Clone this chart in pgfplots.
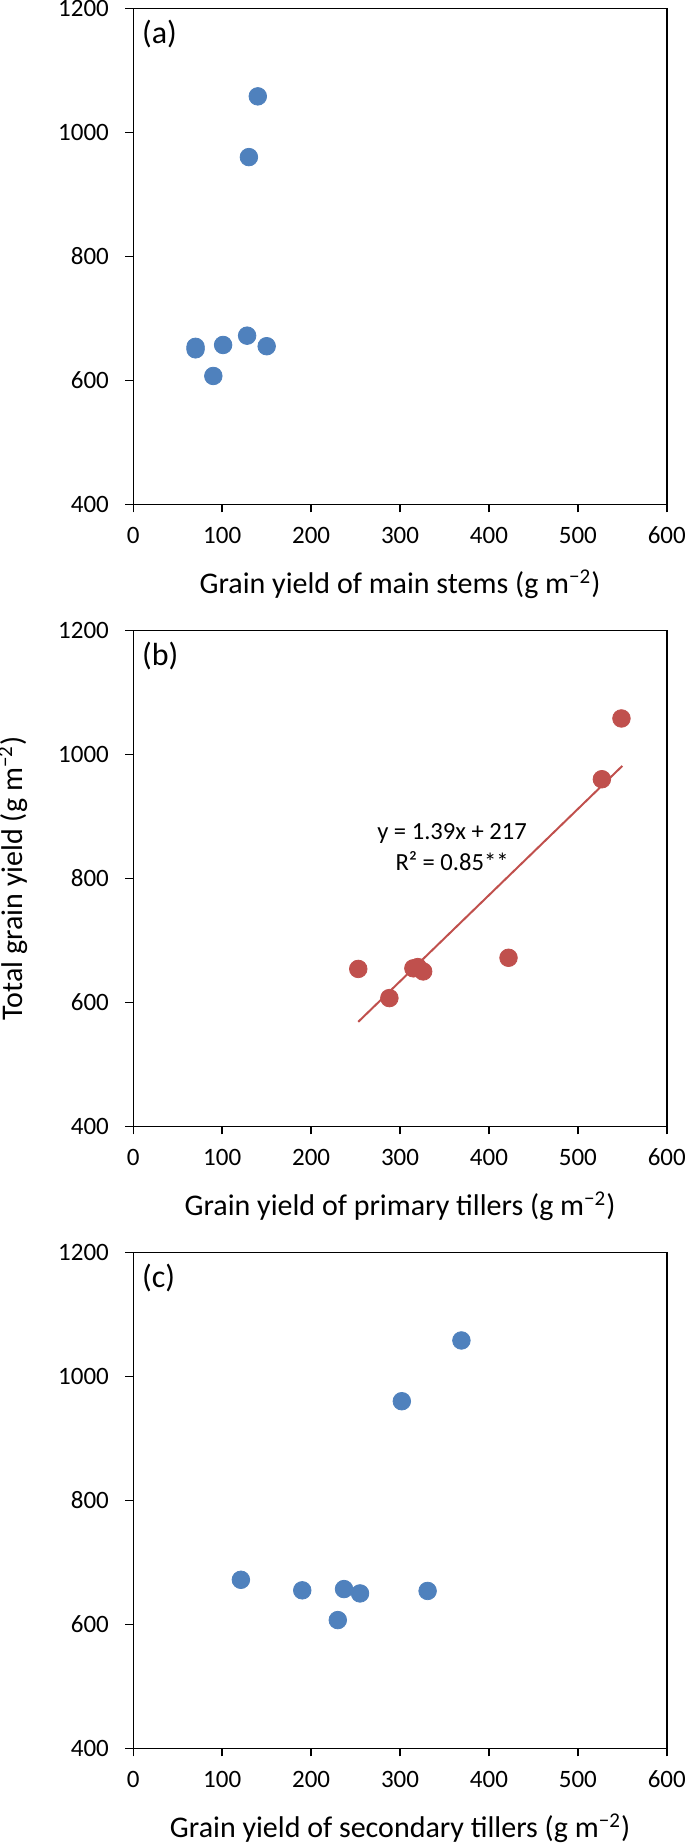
\documentclass[border=0pt]{standalone}
\usepackage{pgfplots}
\pgfplotsset{compat=1.18}
\usepackage{fontspec}
\setmainfont{Carlito}
\definecolor{cblue}{HTML}{4F81BD}
\definecolor{cred}{HTML}{C0504D}
\pgfplotsset{panel/.style={
  scale only axis, width=266.75pt, height=248pt,
  xmin=0, xmax=600, ymin=400, ymax=1200,
  xtick={0,100,...,600}, ytick={400,600,...,1200},
  tick pos=left, tick align=outside, major tick length=4pt,
  axis line style={line width=0.75pt},
  every tick/.style={black, line width=0.75pt},
  /pgf/number format/assume math mode=true,
  /pgf/number format/1000 sep={},
  tick label style={font=\fontsize{12.5}{15}\selectfont},
  xticklabel style={anchor=base, inner sep=0pt, yshift=-15.7pt},
  yticklabel style={anchor=east, inner sep=0pt, xshift=-8pt},
  xlabel style={at={(axis description cs:0.5,-0.1802)}, anchor=base, inner sep=0pt, font=\fontsize{15}{18}\selectfont},
  ylabel style={at={(axis description cs:-0.2077,0.5)}, anchor=base, inner sep=0pt, font=\fontsize{15}{18}\selectfont},
  clip=false,
}}
\begin{document}
\begin{tikzpicture}
% (a)
\begin{axis}[panel, at={(66.65pt,-252.15pt)}, anchor=south west,
  xlabel={Grain yield of main stems (g m\textsuperscript{−2})}]
\addplot[only marks, mark=*, mark size=4.4pt, color=cblue, mark options={draw=none, fill=cblue}]
  coordinates {(140,1058) (130,960) (128,672) (101,657) (90,607) (70,650) (70,654) (150,655)};
\node[anchor=base west, inner sep=0pt, font=\fontsize{16}{19}\selectfont] at ([xshift=4.2pt,yshift=-17.5pt]rel axis cs:0,1) {(a)};
\end{axis}
% (b)
\begin{axis}[panel, at={(66.65pt,-563.2pt)}, anchor=south west,
  xlabel={Grain yield of primary tillers (g m\textsuperscript{−2})},
  ylabel={Total grain yield (g m\textsuperscript{−2})}]
\addplot[cred, line width=1pt] coordinates {(253,568.7) (550,981.5)};
\addplot[only marks, mark=*, mark size=4.4pt, color=cred, mark options={draw=none, fill=cred}]
  coordinates {(549,1058) (527,960) (422,672) (320,657) (288,607) (326,650) (253,654) (315,655)};
\node[anchor=base west, inner sep=0pt, font=\fontsize{16}{19}\selectfont] at ([xshift=4.2pt,yshift=-17.5pt]rel axis cs:0,1) {(b)};
\node[align=center, inner sep=0pt, font=\fontsize{12.3}{15.5}\selectfont] at (axis cs:358.5,850) {y = 1.39x + 217\\R² = 0.85**};
\end{axis}
% (c)
\begin{axis}[panel, at={(66.65pt,-874.2pt)}, anchor=south west,
  xlabel={Grain yield of secondary tillers (g m\textsuperscript{−2})}]
\addplot[only marks, mark=*, mark size=4.4pt, color=cblue, mark options={draw=none, fill=cblue}]
  coordinates {(369,1058) (302,960) (121,672) (237,657) (230,607) (255,650) (331,654) (190,655)};
\node[anchor=base west, inner sep=0pt, font=\fontsize{16}{19}\selectfont] at ([xshift=4.2pt,yshift=-17.5pt]rel axis cs:0,1) {(c)};
\end{axis}
\pgfresetboundingbox
\path[use as bounding box] (0,0) rectangle (342.5pt,-921.5pt);
\end{tikzpicture}
\end{document}
